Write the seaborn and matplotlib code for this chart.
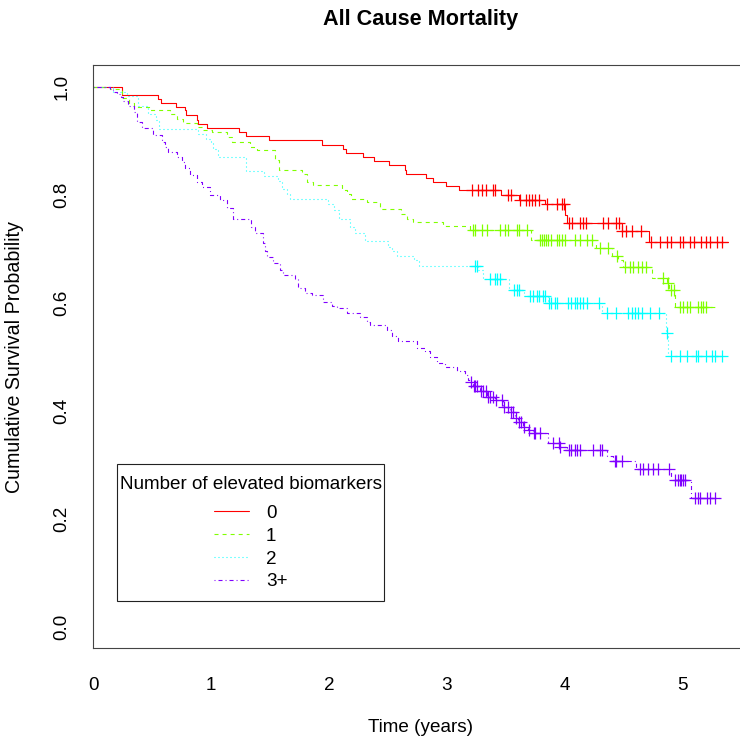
import matplotlib
matplotlib.use("Agg")
import matplotlib.pyplot as plt
from matplotlib.offsetbox import DrawingArea, VPacker
import numpy as np
import pandas as pd
import seaborn as sns

# Kaplan-Meier estimates, one set per group
groups = ["0", "1", "2", "3+"]
colors = ["#FF0000", "#80FF00", "#00FFFF", "#8000FF"]

# group 0
t0 = [0.0, 0.239, 0.545, 0.573, 0.703, 0.777, 0.788, 0.876, 0.885, 0.966,
      1.235, 1.295, 1.487, 1.942, 2.12, 2.141, 2.285, 2.384, 2.508, 2.642,
      2.655, 2.82, 2.882, 2.99, 3.103, 3.459, 3.612, 3.833, 4.008, 4.02,
      4.484, 4.718]
s0 = [1.0, 0.984, 0.977, 0.970, 0.963, 0.956, 0.948, 0.938, 0.931, 0.924,
      0.916, 0.909, 0.901, 0.892, 0.885, 0.877, 0.870, 0.862, 0.855, 0.845,
      0.838, 0.831, 0.823, 0.816, 0.809, 0.800, 0.790, 0.782, 0.762, 0.747,
      0.733, 0.713]
c0 = [3.216, 3.267, 3.295, 3.329, 3.394, 3.406, 3.519, 3.542, 3.621, 3.672,
      3.697, 3.722, 3.748, 3.782, 3.847, 3.932, 3.975, 3.997, 4.042, 4.065,
      4.132, 4.155, 4.181, 4.328, 4.373, 4.435, 4.463, 4.489, 4.526, 4.574,
      4.648, 4.733, 4.809, 4.866, 4.900, 4.979, 5.007, 5.064, 5.098, 5.163,
      5.205, 5.233, 5.295, 5.333]

# group 1
t1 = [0.0, 0.140, 0.239, 0.301, 0.346, 0.480, 0.649, 0.706, 0.762, 0.876,
      0.932, 1.003, 1.131, 1.173, 1.329, 1.385, 1.541, 1.575, 1.772, 1.815,
      1.863, 2.107, 2.152, 2.186, 2.319, 2.432, 2.610, 2.661, 2.712, 2.967,
      3.200, 3.711, 4.263, 4.404, 4.455, 4.497, 4.739, 4.866, 4.885, 4.936]
s1 = [1.0, 0.995, 0.980, 0.969, 0.963, 0.957, 0.949, 0.940, 0.933, 0.926,
      0.919, 0.916, 0.907, 0.897, 0.889, 0.882, 0.864, 0.846, 0.838, 0.824,
      0.818, 0.809, 0.801, 0.793, 0.787, 0.773, 0.764, 0.756, 0.749, 0.742,
      0.735, 0.716, 0.701, 0.687, 0.679, 0.667, 0.646, 0.636, 0.624, 0.593]
c1 = [3.224, 3.238, 3.295, 3.338, 3.451, 3.493, 3.521, 3.598, 3.615, 3.683,
      3.790, 3.805, 3.824, 3.841, 3.861, 3.881, 3.937, 3.954, 3.975, 4.008,
      4.087, 4.130, 4.187, 4.234, 4.300, 4.370, 4.446, 4.512, 4.554, 4.582,
      4.625, 4.654, 4.696, 4.832, 4.879, 4.908, 4.928, 4.979, 5.007, 5.036,
      5.064, 5.134, 5.163, 5.176, 5.199]

# group 2
t2 = [0.0, 0.168, 0.282, 0.378, 0.463, 0.531, 0.556, 0.887, 0.955, 0.997,
      1.014, 1.057, 1.295, 1.447, 1.566, 1.600, 1.643, 1.668, 1.991, 2.042,
      2.084, 2.178, 2.220, 2.305, 2.500, 2.534, 2.576, 2.721, 2.763, 3.267,
      3.304, 3.530, 3.657, 3.861, 4.314, 4.858, 4.862, 4.880]
s2 = [1.0, 0.991, 0.983, 0.965, 0.950, 0.938, 0.921, 0.912, 0.903, 0.896,
      0.885, 0.869, 0.844, 0.835, 0.826, 0.810, 0.801, 0.792, 0.782, 0.772,
      0.756, 0.741, 0.729, 0.714, 0.704, 0.695, 0.687, 0.679, 0.669, 0.661,
      0.644, 0.624, 0.613, 0.599, 0.582, 0.565, 0.544, 0.502]
c2 = [3.238, 3.253, 3.366, 3.408, 3.428, 3.451, 3.572, 3.593, 3.612, 3.705,
      3.733, 3.762, 3.784, 3.818, 3.833, 3.869, 3.884, 3.918, 3.932, 4.031,
      4.059, 4.087, 4.102, 4.130, 4.158, 4.187, 4.291, 4.357, 4.441, 4.540,
      4.569, 4.597, 4.625, 4.654, 4.724, 4.803, 4.866, 4.900, 4.979, 5.036,
      5.120, 5.134, 5.205, 5.248, 5.276, 5.333]

# group 3+
t3 = [0.0, 0.140, 0.168, 0.197, 0.233, 0.253, 0.295, 0.346, 0.367, 0.409,
      0.508, 0.579, 0.607, 0.635, 0.706, 0.749, 0.777, 0.819, 0.876, 0.921,
      0.989, 1.073, 1.131, 1.187, 1.337, 1.371, 1.441, 1.456, 1.470, 1.524,
      1.583, 1.609, 1.711, 1.736, 1.795, 1.855, 1.948, 2.022, 2.067, 2.152,
      2.262, 2.319, 2.347, 2.489, 2.531, 2.585, 2.744, 2.814, 2.857, 2.916,
      2.984, 3.083, 3.154, 3.179, 3.196, 3.222, 3.281, 3.338, 3.408, 3.476,
      3.536, 3.578, 3.604, 3.646, 3.688, 3.731, 3.858, 3.960, 4.020, 4.357,
      4.410, 4.611, 4.900, 5.078]
s3 = [1.0, 0.995, 0.991, 0.986, 0.981, 0.974, 0.964, 0.954, 0.935, 0.923,
      0.911, 0.898, 0.889, 0.880, 0.870, 0.861, 0.849, 0.837, 0.824, 0.815,
      0.800, 0.790, 0.775, 0.756, 0.741, 0.729, 0.710, 0.696, 0.685, 0.674,
      0.661, 0.651, 0.644, 0.627, 0.618, 0.614, 0.602, 0.595, 0.590, 0.582,
      0.574, 0.565, 0.559, 0.550, 0.539, 0.530, 0.516, 0.510, 0.499, 0.488,
      0.482, 0.474, 0.466, 0.457, 0.453, 0.446, 0.437, 0.426, 0.420, 0.407,
      0.398, 0.386, 0.379, 0.371, 0.365, 0.359, 0.341, 0.334, 0.328, 0.317,
      0.307, 0.292, 0.273, 0.239]
c3 = [3.205, 3.230, 3.243, 3.256, 3.290, 3.310, 3.330, 3.350, 3.370, 3.390,
      3.420, 3.470, 3.490, 3.520, 3.545, 3.560, 3.590, 3.615, 3.630, 3.660,
      3.700, 3.740, 3.750, 3.790, 3.900, 3.950, 3.965, 4.039, 4.059, 4.087,
      4.102, 4.130, 4.243, 4.300, 4.314, 4.427, 4.441, 4.484, 4.639, 4.667,
      4.710, 4.752, 4.795, 4.890, 4.936, 4.965, 4.979, 4.993, 5.007, 5.022,
      5.106, 5.134, 5.149, 5.206, 5.234, 5.277]

t_end = [5.389, 5.295, 5.375, 5.333]

times = [t0, t1, t2, t3]
survs = [s0, s1, s2, s3]
censors = [c0, c1, c2, c3]
line_styles = ["-", (0, (2.9, 2.9)), (0, (0.72, 2.16)), (0, (0.72, 2.16, 2.9, 2.16))]

FS = 13.6

sns.set_theme(style="white")
plt.rcParams["font.family"] = ["Liberation Sans", "DejaVu Sans"]
plt.rcParams["lines.scale_dashes"] = False
plt.rcParams["text.color"] = "black"

fig = plt.figure(figsize=(7.4, 7.42), dpi=100)
ax = fig.add_axes([93.5 / 740, 1 - 648.3 / 742, 1 - 93.5 / 740, (648.3 - 65.3) / 742])

for i, g in enumerate(groups):
    tt = np.array(times[i] + [t_end[i]])
    ss = np.array(survs[i] + [survs[i][-1]])
    df = pd.DataFrame({"time": tt, "surv": ss})
    sns.lineplot(data=df, x="time", y="surv", drawstyle="steps-post",
                 color=colors[i], linestyle=line_styles[i], lw=0.8,
                 estimator=None, sort=False, label=g, ax=ax)
    # censored observations sit on the step value at that time
    cc = np.array(censors[i])
    idx = np.searchsorted(np.array(times[i]), cc, side="right") - 1
    cs = np.array(survs[i])[idx]
    sns.scatterplot(x=cc, y=cs, marker="+", s=75, color=colors[i],
                    linewidth=0.9, legend=False, ax=ax)

ax.set_xlim(0, 5.49)
ax.set_ylim(-0.0394, 1.0396)
ax.set_xticks([0, 1, 2, 3, 4, 5])
ax.set_yticks([0.0, 0.2, 0.4, 0.6, 0.8, 1.0])
ax.set_yticklabels(["0.0", "0.2", "0.4", "0.6", "0.8", "1.0"])
ax.tick_params(axis="both", direction="out", length=8.4, width=0.8,
               color="#444444", labelsize=FS, labelcolor="black")
ax.tick_params(axis="x", pad=12.5)
ax.tick_params(axis="y", pad=8, labelrotation=90)
for lab in ax.get_yticklabels():
    lab.set_verticalalignment("center")

for side in ["left", "bottom", "top"]:
    ax.spines[side].set_color("#444444")
    ax.spines[side].set_linewidth(0.8)
ax.spines["right"].set_visible(False)

ax.set_xlabel("")
ax.set_ylabel("")
fig.text(420 / 740, 1 - 727 / 742, "Time (years)", ha="center", va="center",
         fontsize=FS)
fig.text(15 / 740, 1 - 357 / 742, "Cumulative Survival Probability",
         rotation=90, ha="center", va="center", fontsize=14.1)
fig.text(420.5 / 740, 1 - 20 / 742, "All Cause Mortality", ha="center",
         va="center", fontsize=15.6, fontweight="bold")

leg = ax.legend(title="Number of elevated biomarkers", loc="upper left",
                bbox_to_anchor=((116.7 - 93.5) / 646.5, (648.3 - 464.3) / 583),
                borderaxespad=0, fontsize=FS, title_fontsize=FS,
                frameon=True, fancybox=False, framealpha=1, borderpad=0.15,
                labelspacing=0.294, handlelength=1.85, handletextpad=0.9)
# R's legend box: narrow side padding, more room above/below and under the title
top_box = VPacker(children=[DrawingArea(0, 0), leg._legend_title_box], sep=6.4, pad=0)
bottom_box = VPacker(children=[leg._legend_handle_box, DrawingArea(0, 0)], sep=5.7, pad=0)
leg._legend_box._children = [top_box, bottom_box]
leg._legend_box.sep = 8.5
leg._legend_box.set_figure(fig)
leg.get_frame().set_edgecolor("#222222")
leg.get_frame().set_linewidth(0.8)

fig.savefig("out.png", dpi=100)
